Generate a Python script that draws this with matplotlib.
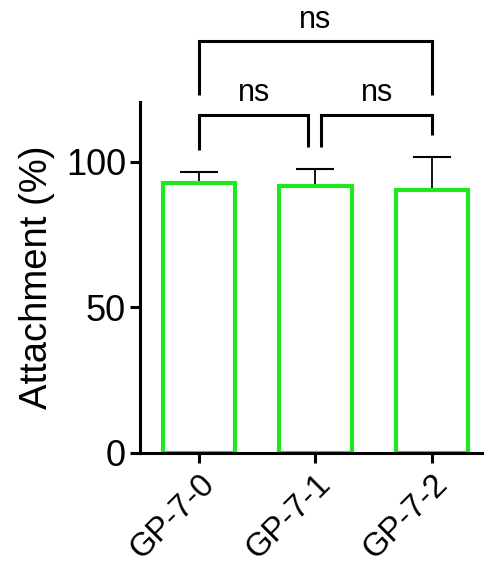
import numpy as np
import matplotlib
matplotlib.use("Agg")
import matplotlib.pyplot as plt

plt.rcParams['font.family'] = ['Liberation Sans', 'DejaVu Sans']

groups = ["GP-7-0", "GP-7-1", "GP-7-2"]
means = [92.8, 91.8, 90.4]
err_up = [3.5, 5.8, 11.1]
# pairwise comparisons: (left, right, label)
comparisons = [(0, 1, "ns"), (1, 2, "ns"), (0, 2, "ns")]

green = '#1ee81e'

fig = plt.figure(figsize=(4.85, 5.67), dpi=100)
ax = fig.add_axes([140/485, 1 - 453/567, (485 - 140)/485, (453 - 102)/567])

x = np.arange(len(groups))
ax.bar(x, means, width=0.62, facecolor='white', edgecolor=green, linewidth=3, zorder=2)
ax.errorbar(x, means, yerr=[[0]*len(x), err_up], fmt='none', ecolor='black',
            elinewidth=1.3, capsize=13.5, capthick=1.5, zorder=1)

ax.set_xlim(-0.506, 2.455)
ax.set_ylim(0, 120.5)
ax.set_yticks([0, 50, 100])
ax.set_xticks(x)
ax.set_xticklabels(groups, rotation=45, ha='right', rotation_mode='anchor', fontsize=23.5)
ax.tick_params(axis='y', labelsize=26, width=2.2, length=7, pad=3)
ax.tick_params(axis='x', width=2.2, length=7, pad=4)
ax.set_ylabel("Attachment (%)", fontsize=27.5, labelpad=8)

for s in ['top', 'right']:
    ax.spines[s].set_visible(False)
for s in ['left', 'bottom']:
    ax.spines[s].set_linewidth(2.2)

# significance brackets
def bracket(x0, x1, y, h0, h1, label):
    ax.plot([x0, x0, x1, x1], [y - h0, y, y, y - h1], color='black', lw=2.2,
            clip_on=False, solid_capstyle='butt', solid_joinstyle='miter')
    ax.text((x0 + x1) / 2, y + 2.3, label, ha='center', va='bottom', fontsize=22,
            clip_on=False)

bracket(0, 0.94, 116, 12, 10.8, comparisons[0][2])
bracket(1.05, 2, 116, 10.8, 7, comparisons[1][2])
bracket(0, 2, 141.3, 18.3, 18.3, comparisons[2][2])

fig.savefig("out.png", dpi=100)
